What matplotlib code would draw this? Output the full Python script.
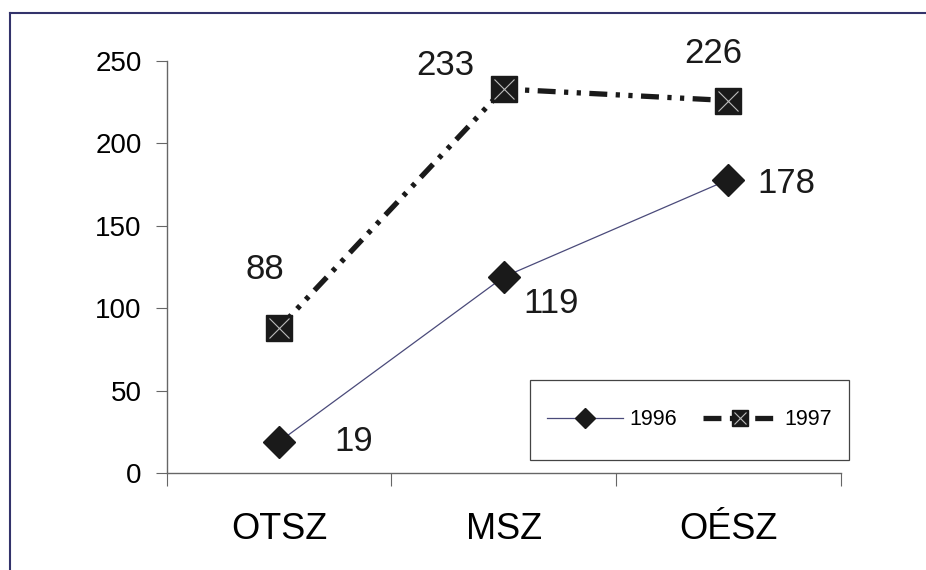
import matplotlib
matplotlib.use("Agg")
import matplotlib.pyplot as plt
from matplotlib.lines import Line2D
from matplotlib.patches import Rectangle
from matplotlib.legend_handler import HandlerTuple

plt.rcParams['font.family'] = ['Liberation Sans', 'DejaVu Sans']

categories = ["OTSZ", "MSZ", "OÉSZ"]
values_1996 = [19, 119, 178]
values_1997 = [88, 233, 226]
yticks = [0, 50, 100, 150, 200, 250]

fig = plt.figure(figsize=(9.26, 5.70), dpi=100)
ax = fig.add_axes([0.180, 0.170, 0.728, 0.723])

x = [0.5, 1.5, 2.5]

# 1996 thin line with diamonds
l96, = ax.plot(x, values_1996, color="#4a4a7a", lw=0.9,
               marker="D", ms=16.5, mfc="#1a1a1a", mec="#1a1a1a", zorder=3)

# 1997 thick dash-dot-dot with squares and an x inside
l97, = ax.plot(x, values_1997, color="#1a1a1a", lw=3.8,
               dashes=(3.4, 1.6, 0.8, 1.6, 0.8, 1.6),
               marker="s", ms=18.5, mfc="#1a1a1a", mec="#1a1a1a", zorder=4)
x97, = ax.plot(x, values_1997, ls="none", marker="x", ms=14, mew=0.8,
               color="#bbbbbb", zorder=5)

# data labels
lbl = dict(fontsize=25, color="#1a1a1a", textcoords="offset points", va="center")
ax.annotate("19", (x[0], values_1996[0]), xytext=(40, 0), **lbl)
ax.annotate("119", (x[1], values_1996[1]), xytext=(14, -19), **lbl)
ax.annotate("178", (x[2], values_1996[2]), xytext=(21, -3), **lbl)
ax.annotate("88", (x[0], values_1997[0]), xytext=(-10, 42), ha="center", **lbl)
ax.annotate("233", (x[1], values_1997[1]), xytext=(-42, 17), ha="center", **lbl)
ax.annotate("226", (x[2], values_1997[2]), xytext=(-11, 34), ha="center", **lbl)

ax.set_xlim(0, 3)
ax.set_ylim(0, 250)
ax.set_yticks(yticks)
ax.set_xticks([0, 1, 2, 3])
ax.set_xticklabels([])
ax.set_xticks(x, minor=True)
ax.set_xticklabels(categories, minor=True, fontsize=26)
ax.tick_params(axis="x", which="minor", length=0, pad=28)
ax.tick_params(axis="x", which="major", direction="out", length=9, color="#666666")
ax.tick_params(axis="y", direction="out", length=8, color="#666666", labelsize=20, pad=10)
for s in ["top", "right"]:
    ax.spines[s].set_visible(False)
for s in ["left", "bottom"]:
    ax.spines[s].set_color("#666666")
    ax.spines[s].set_linewidth(1.0)

# legend box drawn separately so its padding can match
ax.add_patch(Rectangle((0.5386, 0.0316), 0.4733, 0.1941, transform=ax.transAxes,
                       facecolor="white", edgecolor="#444444", lw=0.9,
                       clip_on=False, zorder=6))
leg = ax.legend([l96, (l97, x97)], ["1996", "1997"], ncol=2,
                handler_map={tuple: HandlerTuple(ndivide=1, pad=0)},
                loc="center", bbox_to_anchor=(0.776, 0.129),
                fontsize=15.5, handlelength=3.5, handletextpad=0.3,
                columnspacing=1.2, borderpad=0, frameon=False, markerscale=0.6)
leg.set_zorder(7)

# slide border
fig.add_artist(Line2D([10/926, 1], [1 - 13/570, 1 - 13/570], color="#33336b", lw=1.5))
fig.add_artist(Line2D([10/926, 10/926], [0, 1 - 13/570], color="#33336b", lw=1.5))

fig.savefig("out.png", dpi=100, facecolor="white")
